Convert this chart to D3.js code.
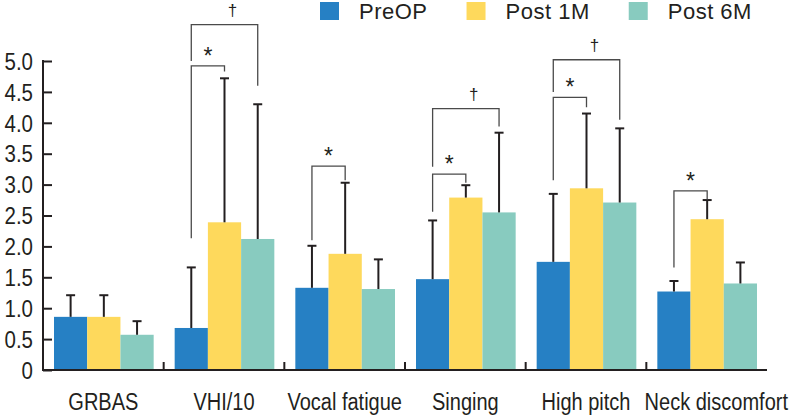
<!DOCTYPE html>
<html>
<head>
<meta charset="utf-8">
<script src="https://cdn.jsdelivr.net/npm/d3@7"></script>
<style>
  body { margin: 0; background: #fff; }
  svg text { font-family: "Liberation Sans", Arial, sans-serif; fill: #231f20; }
</style>
</head>
<body>
<div id="barGraph"></div>
<script>
// data
const categories = ["GRBAS", "VHI/10", "Vocal fatigue", "Singing", "High pitch", "Neck discomfort"];
const seriesNames = ["PreOP", "Post 1M", "Post 6M"];
const seriesColors = ["#2680c4", "#fed95c", "#88cbbf"];
const preOP = [0.86, 0.68, 1.33, 1.47, 1.75, 1.27];
const preOPSD = [0.35, 0.98, 0.68, 0.95, 1.10, 0.17];
const post1M = [0.86, 2.39, 1.88, 2.79, 2.94, 2.44];
const post1MSD = [0.35, 2.33, 1.15, 0.20, 1.21, 0.31];
const post6M = [0.57, 2.12, 1.31, 2.55, 2.71, 1.40];
const post6MSD = [0.22, 2.18, 0.48, 1.29, 1.20, 0.34];
const yTicks = [0, 0.5, 1, 1.5, 2, 2.5, 3, 3.5, 4, 4.5, 5];
// significance brackets: category, from series, to series, symbol, top level, leg ends (in y units)
const brackets = [
  {cat: "VHI/10", a: 0, b: 1, sym: "*", top: 4.92, endA: 2.13, endB: 4.83},
  {cat: "VHI/10", a: 0, b: 2, sym: "\u2020", top: 5.59, endA: 5.00, endB: 4.60},
  {cat: "Vocal fatigue", a: 0, b: 1, sym: "*", top: 3.30, endA: 2.10, endB: 3.07},
  {cat: "Singing", a: 0, b: 1, sym: "*", top: 3.17, endA: 2.56, endB: 3.03},
  {cat: "Singing", a: 0, b: 2, sym: "\u2020", top: 4.23, endA: 3.29, endB: 3.94},
  {cat: "High pitch", a: 0, b: 1, sym: "*", top: 4.41, endA: 3.07, endB: 4.25},
  {cat: "High pitch", a: 0, b: 2, sym: "\u2020", top: 5.02, endA: 4.50, endB: 4.05},
  {cat: "Neck discomfort", a: 0, b: 1, sym: "*", top: 2.90, endA: 1.66, endB: 2.76}
];

function barGraph() {
  const W = 789, H = 417;
  const left = 43, right = 767, base = 370, top = 61;

  const means = [preOP, post1M, post6M];
  const sds = [preOPSD, post1MSD, post6MSD];

  let x0 = d3.scaleBand().domain(categories).range([left, right]);
  let x1 = d3.scaleBand().domain(d3.range(seriesNames.length)).range([11, x0.bandwidth() - 10]);
  let y = d3.scaleLinear().domain([0, 5]).range([base, top]);

  let svg = d3.select("#barGraph")
    .append("svg")
    .attr("width", W)
    .attr("height", H);

  // flatten to one record per bar
  let bars = [];
  categories.forEach(function (c, i) {
    seriesNames.forEach(function (s, j) {
      bars.push({cat: c, s: j, v: means[j][i], sd: sds[j][i]});
    });
  });

  // bars
  svg.selectAll("rect.bar")
    .data(bars)
    .enter()
    .append("rect")
    .attr("class", "bar")
    .attr("fill", function (d) { return seriesColors[d.s]; })
    .attr("x", function (d) { return x0(d.cat) + x1(d.s); })
    .attr("width", x1.bandwidth())
    .attr("y", function (d) { return y(d.v); })
    .attr("height", function (d) { return base - y(d.v); });

  // error bars (upper only)
  let cx = function (d) { return x0(d.cat) + x1(d.s) + x1.bandwidth() / 2; };
  let err = svg.append("g")
    .attr("stroke", "#231f20")
    .attr("stroke-width", 2);
  err.selectAll("line.stem")
    .data(bars)
    .enter()
    .append("line")
    .attr("x1", cx).attr("x2", cx)
    .attr("y1", function (d) { return y(d.v); })
    .attr("y2", function (d) { return y(d.v + d.sd); });
  err.selectAll("line.cap")
    .data(bars)
    .enter()
    .append("line")
    .attr("x1", function (d) { return cx(d) - 4.5; })
    .attr("x2", function (d) { return cx(d) + 4.5; })
    .attr("y1", function (d) { return y(d.v + d.sd); })
    .attr("y2", function (d) { return y(d.v + d.sd); });

  // y axis
  let yAxis = d3.axisLeft(y)
    .tickValues(yTicks)
    .tickSize(-9)
    .tickPadding(10)
    .tickFormat(function (d) { return d === 0 ? "0" : d3.format(".1f")(d); });
  let gy = svg.append("g")
    .attr("transform", `translate(${left},0)`)
    .call(yAxis);
  gy.select(".domain").remove();
  gy.selectAll(".tick line").attr("stroke", "#231f20").attr("stroke-width", 2);
  gy.selectAll(".tick text")
    .attr("font-size", 23)
    .attr("dy", "0.36em")
    .attr("transform", "translate(-10,0) scale(0.89,1)")
    .attr("x", 0)
    .style("font-family", "'Liberation Sans', Arial, sans-serif");
  svg.append("line")
    .attr("x1", left).attr("x2", left)
    .attr("y1", y(5) - 1).attr("y2", base + 1)
    .attr("stroke", "#231f20").attr("stroke-width", 2);

  // x axis with small ticks between categories
  svg.append("line")
    .attr("x1", left).attr("x2", right)
    .attr("y1", base).attr("y2", base)
    .attr("stroke", "#231f20").attr("stroke-width", 2);
  svg.selectAll("line.xtick")
    .data(categories.slice(1))
    .enter()
    .append("line")
    .attr("x1", function (d) { return x0(d); })
    .attr("x2", function (d) { return x0(d); })
    .attr("y1", base).attr("y2", base - 8)
    .attr("stroke", "#231f20").attr("stroke-width", 2);
  // last label is long, so it is pushed to the right edge like in the figure
  let last = categories[categories.length - 1];
  svg.selectAll("text.xlab")
    .data(categories)
    .enter()
    .append("text")
    .attr("transform", function (d) {
      let tx = d === last ? W - 1 : x0(d) + x0.bandwidth() / 2;
      return `translate(${tx},410) scale(0.87,1)`;
    })
    .attr("text-anchor", function (d) { return d === last ? "end" : "middle"; })
    .attr("font-size", 23)
    .text(function (d) { return d; });

  // significance brackets
  let bx = function (d, k) { return x0(d.cat) + x1(k) + x1.bandwidth() / 2; };
  svg.selectAll("path.bracket")
    .data(brackets)
    .enter()
    .append("path")
    .attr("fill", "none")
    .attr("stroke", "#4a4a4a")
    .attr("stroke-width", 1.3)
    .attr("d", function (d) {
      return `M${bx(d, d.a)},${y(d.endA)}V${y(d.top)}H${bx(d, d.b)}V${y(d.endB)}`;
    });
  svg.selectAll("text.sym")
    .data(brackets)
    .enter()
    .append("text")
    .attr("x", function (d) {
      return (bx(d, d.a) + bx(d, d.b)) / 2 + (d.sym === "*" ? 0 : 8);
    })
    .attr("y", function (d) { return y(d.top) - (d.sym === "*" ? 2 : 9); })
    .attr("text-anchor", "middle")
    .attr("font-size", function (d) { return d.sym === "*" ? 23 : 17; })
    .text(function (d) { return d.sym; });

  // legend
  let lx = 320;
  seriesNames.forEach(function (s, j) {
    svg.append("rect")
      .attr("x", lx).attr("y", 2)
      .attr("width", 19).attr("height", 18)
      .attr("fill", seriesColors[j]);
    let t = svg.append("text")
      .attr("x", lx + 39).attr("y", 18.5)
      .attr("font-size", 22)
      .style("letter-spacing", "0.5px")
      .text(s);
    lx = lx + 39 + t.node().getComputedTextLength() + 39;
  });
}

barGraph();
</script>
</body>
</html>
